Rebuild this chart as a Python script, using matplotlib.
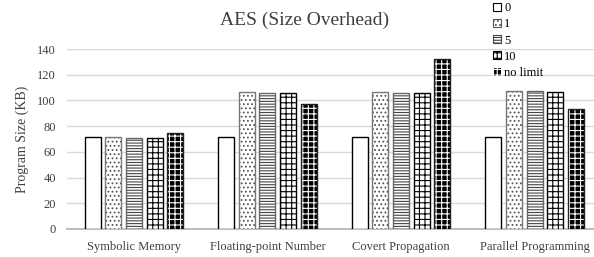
import numpy as np
import matplotlib
matplotlib.use('Agg')
import matplotlib.pyplot as plt
from matplotlib.patches import Patch

plt.rcParams['font.family'] = ['Liberation Serif', 'DejaVu Serif']
plt.rcParams['hatch.linewidth'] = 0.8

categories = ['Symbolic Memory', 'Floating-point Number', 'Covert Propagation', 'Parallel Programming']
series = ['0', '1', '5', '10', 'no limit']
values_0 = [71.5, 71.5, 71.5, 71.5]
values_1 = [71.5, 106.5, 106.5, 107.5]
values_5 = [71, 106, 106, 107]
values_10 = [70.5, 106, 106, 106.5]
values_nolimit = [74.5, 97, 132.5, 93.5]
all_values = [values_0, values_1, values_5, values_10, values_nolimit]

# face, hatch, hatch colour, edge colour
styles = [
    ('white', '', 'black', 'black'),
    ('white', '....', '#555555', '#777777'),
    ('white', '------', '#444444', '#666666'),
    ('white', '+++', 'black', 'black'),
    ('black', '+++', 'white', '#222222'),
]

fig = plt.figure(figsize=(5.94, 2.57), dpi=100)
ax = fig.add_axes([0.113, 0.109, 0.895, 0.700])

x = np.arange(len(categories))
step = 0.1545
width = 0.12
handles = []
for i, (vals, st) in enumerate(zip(all_values, styles)):
    face, hatch, hcol, ecol = st
    pos = x + (i - 2) * step
    ax.bar(pos, vals, width, color=face, hatch=hatch, edgecolor=hcol, linewidth=0, zorder=3)
    ax.bar(pos, vals, width, fill=False, edgecolor=ecol, linewidth=1.0, zorder=4)
    handles.append(Patch(facecolor=face, hatch=hatch, edgecolor=hcol, linewidth=0.8))

ax.set_xlim(-0.5, 3.48)
ax.set_ylim(0, 140)
ax.set_yticks(np.arange(0, 141, 20))
ax.set_xticks(x)
ax.set_xticklabels(categories, fontsize=9)
ax.tick_params(axis='y', labelsize=9, length=0, pad=8, colors='#404040')
ax.tick_params(axis='x', length=0, pad=9, colors='#404040')
ax.grid(axis='y', color='#d9d9d9', linewidth=1, zorder=0)
for s in ['top', 'right', 'left']:
    ax.spines[s].set_visible(False)
ax.spines['bottom'].set_color('#bfbfbf')
ax.spines['bottom'].set_linewidth(1.5)
ax.set_ylabel('Program Size (KB)', fontsize=10, color='#404040', labelpad=6)

fig.text(0.512, 0.92, 'AES (Size Overhead)', fontsize=14, ha='center', va='center', color='#404040')

fig.legend(handles, series, loc='upper left', bbox_to_anchor=(0.815, 1.025), frameon=False,
           fontsize=9, handlelength=0.65, handleheight=0.65, handletextpad=0.25, labelspacing=0.33,
           borderpad=0.2)

fig.savefig('out.png', dpi=100)
